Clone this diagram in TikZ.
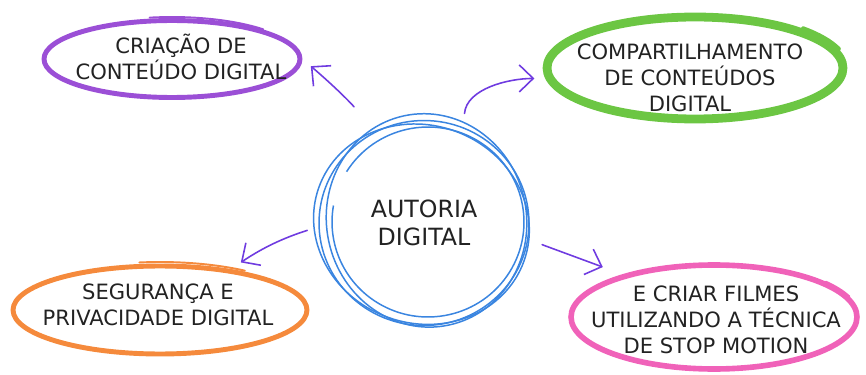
\documentclass[tikz,border=0pt]{standalone}
\usepackage{fontspec}
\setmainfont{DejaVu Sans}
\usetikzlibrary{arrows.meta,shapes.geometric}

\definecolor{ideapurple}{HTML}{9B4FD6}
\definecolor{ideagreen}{HTML}{6CC643}
\definecolor{ideaorange}{HTML}{F58A3C}
\definecolor{ideapink}{HTML}{F062B9}
\definecolor{ideablue}{HTML}{3A85E0}
\definecolor{linkviolet}{HTML}{6F3BE0}
\definecolor{inkgray}{HTML}{222222}

\begin{document}
\begin{tikzpicture}[x=0.02cm, y=0.02cm,
  bubble/.style={draw, ellipse, inner sep=0pt},
  caption/.style={align=center, text=inkgray, font=\fontsize{12}{14.8}\selectfont},
  link/.style={linkviolet, line width=0.9pt, line cap=round, -{Straight Barb[length=2.8mm,width=5.4mm]}},
  scribble/.style={ideablue, line width=0.85pt},
  tail/.style={line width=1.1pt, line cap=round}]
\useasboundingbox (0,0) rectangle (866,-375);

% Central topic
\node (autoria) at (424,-223) [circle, minimum size=4.2cm, inner sep=0pt, text=inkgray,
  align=center, font=\fontsize{13.5}{16}\selectfont] {AUTORIA\\DIGITAL};
\draw[scribble] (autoria.center) ellipse [x radius=2.1cm, y radius=2.05cm];
\draw[scribble, rotate around={12:(autoria.center)}] ([shift={(3,2)}]autoria.center) ellipse [x radius=2.0cm, y radius=2.14cm];
\draw[scribble, rotate around={-20:(autoria.center)}] ([shift={(-2,-2)}]autoria.center) ellipse [x radius=2.18cm, y radius=1.98cm];
\draw[scribble] ([shift={(4,1)}]autoria.center) ++(148:1.92cm and 1.9cm) arc [start angle=148, end angle=-190, x radius=1.92cm, y radius=1.9cm];

% Surrounding topics
\node (criacao) at (172,-59) [bubble, draw=ideapurple, line width=2.8pt, minimum width=5.12cm, minimum height=1.54cm] {};
\node (criacao-txt) at (181,-57) [caption] {CRIAÇÃO DE\\CONTEÚDO DIGITAL};
\draw[tail, ideapurple] ([shift={(100:2.58cm and 0.84cm)}]criacao.center) arc [start angle=100, end angle=45, x radius=2.58cm, y radius=0.84cm];

\node (compart) at (695,-68) [bubble, draw=ideagreen, line width=5pt, minimum width=5.92cm, minimum height=2.04cm] {};
\node (compart-txt) at (690,-78) [caption] {COMPARTILHAMENTO\\DE CONTEÚDOS\\DIGITAL};
\draw[tail, ideagreen, line width=2.4pt] ([shift={(45:3.06cm and 1.12cm)}]compart.center) arc [start angle=45, end angle=20, x radius=3.06cm, y radius=1.12cm];

\node (seguranca) at (160,-310) [bubble, draw=ideaorange, line width=2.8pt, minimum width=5.88cm, minimum height=1.76cm] {};
\node (seguranca-txt) at (158,-305) [caption] {SEGURANÇA E\\PRIVACIDADE DIGITAL};
\draw[tail, ideaorange] ([shift={(98:2.96cm and 0.96cm)}]seguranca.center) arc [start angle=98, end angle=55, x radius=2.96cm, y radius=0.96cm];

\node (stop) at (714,-317) [bubble, draw=ideapink, line width=3.2pt, minimum width=5.72cm, minimum height=2.08cm] {};
\node (stop-txt) at (716,-320) [caption] {E CRIAR FILMES\\UTILIZANDO A TÉCNICA\\DE STOP MOTION};
\draw[tail, ideapink] ([shift={(40:2.92cm and 1.1cm)}]stop.center) arc [start angle=40, end angle=22, x radius=2.92cm, y radius=1.1cm];

% Links from the centre
\draw[link, shorten <=0.62cm, shorten >=0.22cm] (autoria.118) to[bend right=4] (criacao.east);
\draw[link, shorten <=0.24cm, shorten >=0.22cm] (autoria.68) to[out=85, in=180] (compart.184);
\draw[link, shorten <=0.24cm, shorten >=0.24cm] (autoria.182) to[bend right=8] (seguranca.30);
\draw[link, shorten <=0.3cm, shorten >=0.42cm] (autoria.-9) -- (stop.155);
\end{tikzpicture}
\end{document}
